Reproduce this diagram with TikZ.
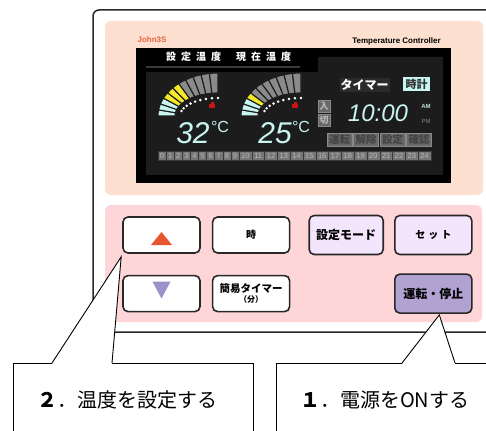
\documentclass[tikz,border=0pt]{standalone}
\usepackage{fontspec}
\setmainfont{Liberation Sans}
\newfontfamily\jpfont{Noto Sans CJK JP}
\usepackage{tikz}
\usetikzlibrary{positioning, calc}
\definecolor{housingline}{RGB}{40, 40, 40}
\definecolor{peachbg}{RGB}{253, 224, 207}
\definecolor{pinkbg}{RGB}{255, 214, 216}
\definecolor{lcdpanel}{RGB}{28, 28, 28}
\definecolor{lcdcyan}{RGB}{200, 245, 240}
\definecolor{lcdyellow}{RGB}{245, 232, 40}
\definecolor{lcdgray}{RGB}{138, 138, 138}
\definecolor{lcddim}{RGB}{105, 105, 105}
\definecolor{hourgray}{RGB}{118, 118, 118}
\definecolor{heatred}{RGB}{200, 20, 20}
\definecolor{brandorange}{RGB}{232, 100, 60}
\definecolor{lavender}{RGB}{243, 230, 252}
\definecolor{runpurple}{RGB}{178, 162, 210}
\definecolor{upred}{RGB}{232, 85, 46}
\definecolor{downpurple}{RGB}{155, 146, 201}
\tikzset{
  font=\jpfont,
  housing/.style={draw=housingline, line width=1.5pt, rounded corners=6pt},
  keybtn/.style={
    rectangle, rounded corners=5pt, draw=housingline, line width=1.6pt,
    fill=white, minimum width=77pt, minimum height=36pt, inner sep=1pt,
    align=center, font=\jpfont\bfseries\fontsize{10}{11}\selectfont
  },
  modebtn/.style={keybtn, fill=lavender, minimum height=39pt},
  runbtn/.style={keybtn, fill=runpurple, minimum height=39pt},
  calloutbox/.style={
    rectangle, draw=black, line width=0.9pt, fill=white, outer sep=0pt,
    anchor=north west, minimum height=74pt, inner xsep=24pt, align=left,
    font=\jpfont\fontsize{20}{22}\selectfont
  },
  pointer/.style={draw=black, line width=0.9pt},
  gaugeseg/.style={draw=lcdpanel, line width=1.1pt},
  lcdtext/.style={inner sep=0pt, text=white, font=\jpfont\bfseries\fontsize{10}{10}\selectfont},
  lcdtag/.style={
    rectangle, draw=lcdgray, line width=0.6pt, fill=lcddim, text=lcdpanel!60!gray,
    inner sep=0pt, minimum width=25pt, minimum height=13pt,
    font=\jpfont\bfseries\fontsize{10.5}{10.5}\selectfont
  },
  hourcell/.style={
    rectangle, draw=lcdpanel!70!gray, line width=0.6pt, fill=hourgray, text=lcdgray!60!white,
    inner sep=0pt, minimum height=9pt, font=\rmfamily\fontsize{7.5}{7.5}\selectfont
  },
  segdigit/.style={inner sep=0pt, text=lcdcyan, font=\rmfamily\itshape\fontsize{30}{30}\selectfont},
  degree/.style={inner sep=0pt, text=lcdcyan, font=\rmfamily\fontsize{16}{16}\selectfont},
  ampm/.style={inner sep=0pt, text=lcdcyan!80!gray, font=\rmfamily\bfseries\fontsize{6}{6}\selectfont}
}

\begin{document}
\begin{tikzpicture}[x=1pt, y=-1pt]
  \useasboundingbox (0,0) rectangle (486,430);
  \clip (0,0) rectangle (486,430);

  % Housing and the two face plates
  \draw[housing] (495,332) -- (93,332) -- (93,10) -- (495,10);
  \fill[peachbg, rounded corners=6pt] (105,21) rectangle (483,195);
  \fill[pinkbg, rounded corners=6pt] (105,205) rectangle (482,322);

  \node[inner sep=0pt, text=brandorange, font=\rmfamily\bfseries\fontsize{8}{8}\selectfont] (brand) at (152,40) {John3S};
  \node[inner sep=0pt, font=\rmfamily\bfseries\fontsize{8}{8}\selectfont] (model) at (396.5,41) {Temperature Controller};

  % LCD frame
  \fill[black] (136,48) rectangle (451,183);
  \fill[lcdpanel] (146,72) -- (318,72) -- (318,57) -- (443,57) -- (443,175) -- (146,175) -- cycle;
  \fill[lcdpanel!70!gray] (146,66) rectangle (300,68.5);
  \node[lcdtext] (hdrset) at (193.5,57) {設\hspace{5pt}定\hspace{5pt}温\hspace{5pt}度};
  \node[lcdtext] (hdrnow) at (263.5,57) {現\hspace{5pt}在\hspace{5pt}温\hspace{5pt}度};

  % Gauges: set temperature (left), current temperature (right)
  \foreach \gx/\hot in {218/6, 301/4} {
    \begin{scope}[shift={(\gx,116)}]
      \foreach \i in {0,...,10} {
        \pgfmathsetmacro{\aa}{180+90*\i/11}
        \pgfmathsetmacro{\am}{180+90*(\i+0.5)/11}
        \pgfmathsetmacro{\ab}{180+90*(\i+1)/11}
        \ifnum\i<3 \def\segcol{lcdcyan}\else\ifnum\i<\hot \def\segcol{lcdyellow}\else\def\segcol{lcdgray}\fi\fi
        \filldraw[gaugeseg, fill=\segcol] (\aa:60 and 43) -- (\am:60 and 43) -- (\ab:60 and 43)
          -- (\ab:43 and 23) -- (\am:43 and 23) -- (\aa:43 and 23) -- cycle;
      }
      \foreach \k in {0,...,8}
        \fill[white] ({196+74*\k/8}:38 and 18) circle[radius=1.4pt];
      \fill[heatred] (-9,-12) rectangle (-3,-8);
      \fill[heatred] (-7.5,-13.5) rectangle (-4.5,-12);
    \end{scope}
  }

  \node[segdigit] (tempset) at (193,133) {32};
  \node[degree] (unitset) at (220,127) {°C};
  \node[segdigit] (tempnow) at (275,133) {25};
  \node[degree] (unitnow) at (301,127) {°C};

  % Timer block
  \node[lcdtag, minimum width=12pt, minimum height=12pt, font=\jpfont\bfseries\fontsize{9}{9}\selectfont, text=lcdgray!60!white] (poweron) at (324,106) {入};
  \node[lcdtag, minimum width=12pt, minimum height=12pt, font=\jpfont\bfseries\fontsize{9}{9}\selectfont, text=lcdgray!60!white] (poweroff) at (324,120.5) {切};
  \node[lcdtext, fill=lcdpanel!85!gray, inner sep=1pt, font=\jpfont\bfseries\fontsize{12}{12}\selectfont] (timer) at (364.5,85) {タイマー};
  \node[rectangle, fill=lcdcyan, text=lcdpanel!80!gray, inner sep=0pt, minimum width=27pt, minimum height=14pt, font=\jpfont\bfseries\fontsize{11}{11}\selectfont] (clockmode) at (416.5,84) {時計};
  \node[segdigit, font=\rmfamily\itshape\fontsize{24}{24}\selectfont] (clock) at (378,113) {10:00};
  \node[ampm] (am) at (426,106) {AM};
  \node[ampm, text=lcddim] (pm) at (426,121) {PM};
  \foreach \tag [count=\t from 0] in {運転,解除,設定,確認}
    \node[lcdtag] (tag\t) at ({339.5+26.5*\t},139.5) {\tag};

  % Hour strip
  \foreach \h in {0,...,9}
    \node[hourcell, minimum width=8.1pt] (hr\h) at ({162.05+8.1*\h},155.5) {\h};
  \foreach \h in {10,...,24}
    \node[hourcell, minimum width=12.8pt] (hr\h) at ({245.4+12.8*(\h-10)},155.5) {\h};

  % Keys
  \node[keybtn] (up) at (161.5,235) {};
  \node[keybtn, right=11pt of up] (hour) {時};
  \node[keybtn, below=21pt of up] (down) {};
  \node[keybtn, right=11pt of down, font=\jpfont\bfseries\fontsize{10.5}{11}\selectfont] (quick) {簡易タイマー\\[-1pt]{\fontsize{8}{9}\selectfont （分）}};
  \node[modebtn, minimum width=74pt, right=18pt of hour, font=\jpfont\bfseries\fontsize{12}{12}\selectfont] (mode) {設定モード};
  \node[modebtn, right=10pt of mode] (set) {セ\hspace{3pt}ッ\hspace{3pt}ト};
  \node[runbtn, below=18pt of set, font=\jpfont\bfseries\fontsize{12}{12}\selectfont] (run) {運転・停止};
  \fill[upred] (up.center) ++(-10.5,10) -- ++(21,0) -- ++(-10.5,-13) -- cycle;
  \fill[downpurple] (down.center) ++(-9,-12) -- ++(18,0) -- ++(-9,17) -- cycle;

  % Callouts
  \node[calloutbox, text width=192pt] (steptemp) at (13,363) {\textbf{２}．温度を設定する};
  \node[calloutbox, text width=210pt] (steppower) at (276,363) {\textbf{１}．電源をONする};
  \coordinate (tiptemp) at ($(up.south west)+(-1,3)$);
  \coordinate (tippower) at ($(run.south)+(6,1)$);
  \fill[white] ($(steptemp.north west)+(39,1)$) -- (tiptemp) -- ($(steptemp.north west)+(99,1)$) -- cycle;
  \draw[pointer] ($(steptemp.north west)+(39,0)$) -- (tiptemp) -- ($(steptemp.north west)+(99,0)$);
  \fill[white] ($(steppower.north west)+(126,1)$) -- (tippower) -- ($(steppower.north west)+(179,1)$) -- cycle;
  \draw[pointer] ($(steppower.north west)+(126,0)$) -- (tippower) -- ($(steppower.north west)+(179,0)$);
\end{tikzpicture}
\end{document}
